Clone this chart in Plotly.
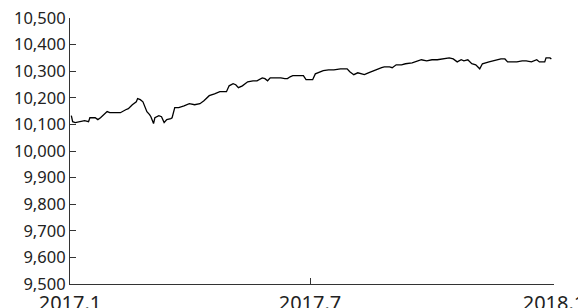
import plotly.graph_objects as go

dates = [
    "2017-01-02", "2017-01-03", "2017-01-05", "2017-01-09", "2017-01-12", "2017-01-15",
    "2017-01-16", "2017-01-20", "2017-01-22", "2017-01-24", "2017-01-27", "2017-01-29",
    "2017-01-31", "2017-02-04", "2017-02-08", "2017-02-12", "2017-02-14", "2017-02-17",
    "2017-02-20", "2017-02-21", "2017-02-23", "2017-02-25", "2017-02-28", "2017-03-02",
    "2017-03-03", "2017-03-05", "2017-03-06", "2017-03-09", "2017-03-11", "2017-03-13",
    "2017-03-15", "2017-03-18", "2017-03-19", "2017-03-21", "2017-03-24", "2017-03-28",
    "2017-04-01", "2017-04-05", "2017-04-09", "2017-04-12", "2017-04-16", "2017-04-20",
    "2017-04-24", "2017-04-27", "2017-04-29", "2017-05-01", "2017-05-04", "2017-05-06",
    "2017-05-08", "2017-05-11", "2017-05-15", "2017-05-19", "2017-05-22", "2017-05-26",
    "2017-05-28", "2017-05-30", "2017-06-01", "2017-06-05", "2017-06-09", "2017-06-12",
    "2017-06-14", "2017-06-16", "2017-06-18", "2017-06-22", "2017-06-26", "2017-06-28",
    "2017-07-03", "2017-07-05", "2017-07-09", "2017-07-11", "2017-07-15", "2017-07-19",
    "2017-07-24", "2017-07-29", "2017-07-31", "2017-08-02", "2017-08-03", "2017-08-06",
    "2017-08-09", "2017-08-11", "2017-08-14", "2017-08-16", "2017-08-19", "2017-08-21",
    "2017-08-24", "2017-08-26", "2017-08-30", "2017-09-01", "2017-09-04", "2017-09-08",
    "2017-09-11", "2017-09-16", "2017-09-19", "2017-09-23", "2017-09-27", "2017-10-01",
    "2017-10-05", "2017-10-09", "2017-10-12", "2017-10-14", "2017-10-17", "2017-10-19",
    "2017-10-20", "2017-10-23", "2017-10-25", "2017-10-28", "2017-10-31", "2017-11-03",
    "2017-11-04", "2017-11-06", "2017-11-08", "2017-11-11", "2017-11-13", "2017-11-16",
    "2017-11-19", "2017-11-22", "2017-11-25", "2017-11-27", "2017-11-30", "2017-12-04",
    "2017-12-08", "2017-12-11", "2017-12-15", "2017-12-19", "2017-12-21", "2017-12-25",
    "2017-12-26", "2017-12-29", "2017-12-30",
]

values = [
    10133, 10110, 10107, 10110, 10114, 10110,
    10125, 10125, 10118, 10125, 10140, 10148,
    10144, 10144, 10144, 10155, 10159, 10174,
    10185, 10197, 10193, 10185, 10148, 10137,
    10129, 10103, 10125, 10133, 10129, 10107,
    10118, 10122, 10125, 10163, 10163, 10170,
    10178, 10174, 10178, 10189, 10208, 10215,
    10223, 10223, 10223, 10245, 10253, 10249,
    10238, 10245, 10260, 10264, 10264, 10275,
    10272, 10264, 10275, 10275, 10275, 10272,
    10272, 10279, 10283, 10283, 10283, 10268,
    10268, 10290, 10298, 10302, 10305, 10305,
    10309, 10309, 10298, 10290, 10287, 10294,
    10290, 10287, 10294, 10298, 10305, 10309,
    10313, 10316, 10316, 10313, 10324, 10324,
    10328, 10331, 10335, 10343, 10339, 10343,
    10343, 10346, 10346, 10350, 10346, 10339,
    10335, 10343, 10339, 10343, 10328, 10324,
    10320, 10309, 10328, 10331, 10335, 10339,
    10343, 10346, 10346, 10335, 10335, 10335,
    10339, 10339, 10335, 10343, 10335, 10335,
    10350, 10350, 10346,
]

x_tick_vals = ["2017-01-01", "2017-07-01", "2018-01-01"]
x_tick_text = ["2017.1", "2017.7", "2018.1"]
y_tick_vals = [9500, 9600, 9700, 9800, 9900, 10000, 10100, 10200, 10300, 10400, 10500]

fig = go.Figure(
    go.Scatter(
        x=dates,
        y=values,
        mode="lines",
        line=dict(color="#000000", width=1.3),
        hoverinfo="skip",
    )
)

fig.update_layout(
    width=586,
    height=308,
    margin=dict(l=62, r=40, t=10, b=32, autoexpand=False),
    paper_bgcolor="white",
    plot_bgcolor="white",
    showlegend=False,
    font=dict(family="Noto Sans, Open Sans, sans-serif", color="#222222"),
)

fig.update_xaxes(
    range=["2017-01-01", "2018-01-01"],
    tickmode="array",
    tickvals=x_tick_vals,
    ticktext=x_tick_text,
    ticks="inside",
    ticklen=6,
    tickcolor="#333333",
    tickwidth=1,
    showline=True,
    linecolor="#333333",
    linewidth=1.2,
    showgrid=False,
    zeroline=False,
    automargin=False,
    ticklabelstandoff=1,
    ticklabeloverflow="allow",
    tickfont=dict(size=20, color="#222222"),
)

fig.update_yaxes(
    range=[9500, 10500],
    tickmode="array",
    tickvals=y_tick_vals,
    tickformat=",",
    ticks="inside",
    ticklen=6,
    tickcolor="#333333",
    tickwidth=1,
    showline=True,
    linecolor="#333333",
    linewidth=1.2,
    showgrid=False,
    zeroline=False,
    automargin=False,
    ticklabeloverflow="allow",
    tickfont=dict(size=16.5, color="#222222"),
)

fig.write_html("out.html")
